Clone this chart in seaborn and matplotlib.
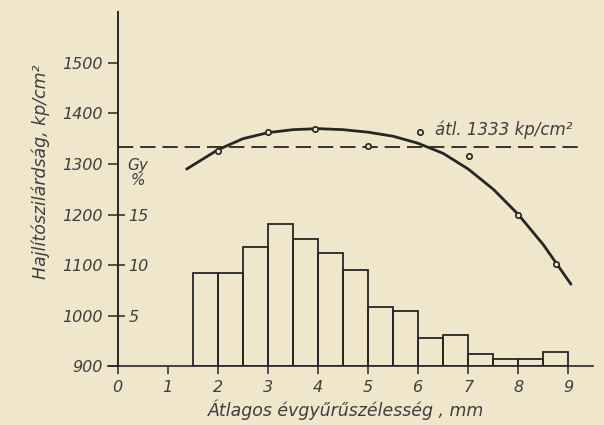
import matplotlib
matplotlib.use("Agg")
import matplotlib.pyplot as plt
import seaborn as sns

# ---------------- data ----------------
# histogram: ring-width classes (left edge, mm) and frequency (Gy %)
class_left = [1.5, 2.0, 2.5, 3.0, 3.5, 4.0, 4.5, 5.0, 5.5, 6.0, 6.5, 7.0, 7.5, 8.0, 8.5]
class_width = 0.5
freq_pct = [9.2, 9.2, 11.75, 14.1, 12.6, 11.2, 9.5, 5.8, 5.4, 2.8, 3.1, 1.2, 0.7, 0.7, 1.4]

# measured mean bending strength (kp/cm2)
pt_x = [2.0, 3.0, 3.95, 5.0, 6.03, 7.02, 8.0, 8.75]
pt_y = [1326, 1363, 1369, 1336, 1363, 1316, 1200, 1102]

# fitted curve as drawn
curve_x = [1.38, 2.0, 2.5, 3.0, 3.5, 4.0, 4.5, 5.0, 5.5, 6.0, 6.5, 7.0, 7.5, 8.0, 8.5, 9.05]
curve_y = [1290, 1328, 1350, 1362, 1368, 1370, 1368, 1363, 1355, 1341, 1321, 1290, 1250, 1200, 1140, 1062]

mean_value = 1333
mean_label = "átl. 1333 kp/cm²"

x_ticks = [0, 1, 2, 3, 4, 5, 6, 7, 8, 9]
y_ticks = [900, 1000, 1100, 1200, 1300, 1400, 1500]
pct_ticks = [5, 10, 15]

x_label = "Átlagos évgyűrűszélesség , mm"
y_label = "Hajlítószilárdság, kp/cm²"
pct_label = "Gy\n%"

# ---------------- style ----------------
BG = "#efe6cb"
INK = "#262626"
TXT = "#3e3e3e"

sns.set_theme(style="white")
plt.rcParams["font.family"] = ["DejaVu Sans"]
plt.rcParams["font.style"] = "italic"
plt.rcParams["lines.scale_dashes"] = False

fig = plt.figure(figsize=(6.04, 4.25), dpi=100, facecolor=BG)
ax = fig.add_axes([0.178, 0.1388, 0.8046, 0.8318])
ax.set_facecolor(BG)

ax.set_xlim(-0.2, 9.5)
ax.set_ylim(900, 1600)

# mean dashed line
ax.hlines(mean_value, 0, 9.2, colors=INK, linewidth=1.3, linestyles=(0, (11, 5)), zorder=2)

# fitted curve
sns.lineplot(x=curve_x, y=curve_y, ax=ax, sort=False, color=INK, linewidth=2.0,
             solid_joinstyle="round", solid_capstyle="round", zorder=3)
# measured points
sns.scatterplot(x=pt_x, y=pt_y, ax=ax, marker="o", s=15, facecolor=BG,
                edgecolor=INK, linewidth=1.2, zorder=4)

ax.text(6.34, 1357, mean_label, fontsize=12, color=TXT, ha="left", va="baseline",
        fontstyle="italic")

# spines
for s in ["top", "right"]:
    ax.spines[s].set_visible(False)
ax.spines["left"].set_position(("data", 0))
ax.spines["left"].set_color(INK)
ax.spines["bottom"].set_color(INK)
ax.spines["left"].set_linewidth(1.4)
ax.spines["bottom"].set_linewidth(1.2)

ax.set_xticks(x_ticks)
ax.set_xticklabels([str(v) for v in x_ticks])
ax.set_yticks(y_ticks)
ax.set_yticklabels([str(v) for v in y_ticks])
ax.tick_params(axis="x", direction="out", length=6, width=1.1, color=INK, pad=4,
               labelsize=11.5, labelcolor=TXT, bottom=True)
ax.tick_params(axis="y", direction="out", length=7, width=1.1, color=INK, pad=4,
               labelsize=11.5, labelcolor=TXT, left=True)

ax.set_xlabel(x_label, fontsize=12.5, color=TXT, fontstyle="italic", va="top")
ax.xaxis.set_label_coords(0.49, -0.095)
ax.set_ylabel(y_label, fontsize=12.5, color=TXT, fontstyle="italic")
ax.yaxis.set_label_coords(-0.118, 0.55)

# histogram on a twin axis (Gy %)
ax2 = ax.twinx()
centers = [l + class_width / 2 for l in class_left]
edges = class_left + [class_left[-1] + class_width]
sns.histplot(x=centers, weights=freq_pct, bins=edges, ax=ax2, fill=False,
             element="bars", color=INK, linewidth=1.3, zorder=2)
ax2.set_ylim(0, (1600 - 900) / 20)
ax2.set_xlim(-0.2, 9.5)
for s in ["top", "right", "bottom", "left"]:
    ax2.spines[s].set_visible(False)
ax2.spines["left"].set_position(("data", 0))
ax2.yaxis.tick_left()
ax2.set_yticks(pct_ticks)
ax2.set_yticklabels([str(v) for v in pct_ticks])
ax2.tick_params(axis="y", direction="in", length=5, width=1.1, color=INK, pad=-8,
                labelsize=11.5, labelcolor=TXT, left=True, right=False,
                labelleft=True, labelright=False)
for t in ax2.yaxis.get_major_ticks():
    t.label1.set_horizontalalignment("left")
ax2.set_ylabel("")
ax2.set_xlabel("")

ax.text(0.063, 0.546, pct_label, transform=ax.transAxes, fontsize=11, color=TXT,
        ha="center", va="center", linespacing=1.05, fontstyle="italic")

fig.savefig("out.png", dpi=100, facecolor=BG)
